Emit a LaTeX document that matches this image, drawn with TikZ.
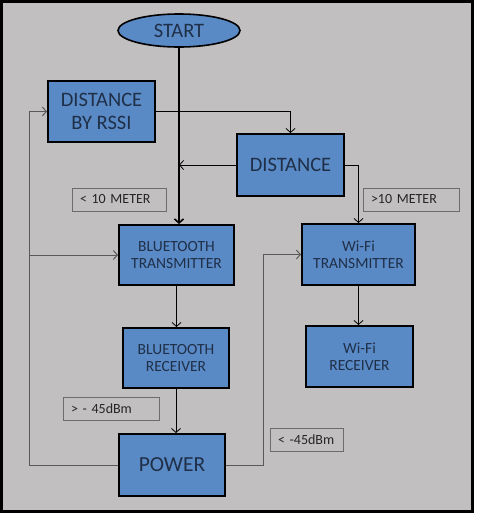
\documentclass[tikz,border=0pt]{standalone}
\usepackage{fontspec}
\setmainfont{Carlito}
\usetikzlibrary{shapes.geometric,arrows.meta}
\definecolor{boxblue}{HTML}{5A8AC6}
\definecolor{bggray}{HTML}{C1BFBF}
\definecolor{txtnavy}{HTML}{1F2F48}
\tikzstyle{startstop} = [ellipse, minimum width=122pt, minimum height=33pt, inner sep=0pt, text centered, draw=black, line width=1.6pt, fill=boxblue, text=txtnavy, font=\fontsize{20.5}{23}\selectfont]
\tikzstyle{process} = [rectangle, minimum width=107pt, minimum height=61pt, inner sep=0pt, align=center, draw=black, line width=2pt, fill=boxblue, text=txtnavy]
\tikzstyle{bigtxt} = [font=\fontsize{20.5}{23}\selectfont]
\tikzstyle{smalltxt} = [font=\fontsize{15.5}{17.5}\selectfont]
\tikzstyle{cond} = [rectangle, minimum height=23pt, inner xsep=8pt, inner ysep=0pt, align=left, draw=gray!85!black, line width=0.6pt, text=black!85, font=\fontsize{14}{16}\selectfont]
\tikzstyle{arrow} = [line width=0.8pt, -{Straight Barb[length=4pt,width=9pt]}]
\tikzstyle{loopline} = [line width=1pt, draw=black!65]

\begin{document}
\begin{tikzpicture}[x=1pt, y=-1pt]
\useasboundingbox (0,0) rectangle (480,528);
\draw[fill=bggray, line width=3pt] (1.5,1.5) rectangle (472.5,511.5);

\node (start) [startstop] at (179,30.5) {START};
\node (rssi) [process, bigtxt] at (101.5,111.5) {DISTANCE\\BY RSSI};
\node (dist) [process, bigtxt, minimum height=62pt] at (290.5,165) {DISTANCE};
\node (bttx) [process, smalltxt, minimum width=115pt, minimum height=60pt] at (176.5,255) {BLUETOOTH\\TRANSMITTER};
\node (wftx) [process, smalltxt, minimum width=113pt] at (358.5,254.5) {Wi-Fi\\TRANSMITTER};
\node (btrx) [process, smalltxt, minimum width=106pt, minimum height=60pt] at (176,358) {BLUETOOTH\\RECEIVER};
\node (wfrx) [process, smalltxt] at (359.5,356.5) {Wi-Fi\\RECEIVER};
\node (power) [process, bigtxt, minimum width=106pt, minimum height=62pt, font=\fontsize{21.5}{24}\selectfont] at (172,465) {POWER};

\node (near) [cond, text width=78pt] at (119,199.5) {< 10 METER};
\node (far) [cond, text width=80pt] at (411,199.5) {>10 METER};
\node (strong) [cond, text width=80pt] at (111,408.5) {> - 45dBm};
\node (weak) [cond, text width=57pt] at (306.5,439.5) {< -45dBm};

\coordinate (mid) at (start.south |- dist.west);
\coordinate (lft) at (29,465);
\coordinate (rgt) at (263,465);

\draw [arrow, line width=1.6pt] (start.south) -- (start.south |- bttx.north);
\draw [arrow] (rssi.east) -| (dist.north);
\draw [arrow] (dist.west) -- (mid);
\draw [arrow] (dist.east) -| (wftx.north);
\draw [arrow] (bttx.south) -- (bttx.south |- btrx.north);
\draw [arrow] (btrx.south) -- (btrx.south |- power.north);
\draw [arrow] (wftx.south) -- (wftx.south |- wfrx.north);
\draw [arrow, loopline] (power.west) -- (lft) |- (rssi.west);
\draw [arrow, loopline] (lft |- bttx.west) -- (bttx.west);
\draw [arrow, loopline] (power.east) -- (rgt) |- (wftx.west);
\end{tikzpicture}
\end{document}
